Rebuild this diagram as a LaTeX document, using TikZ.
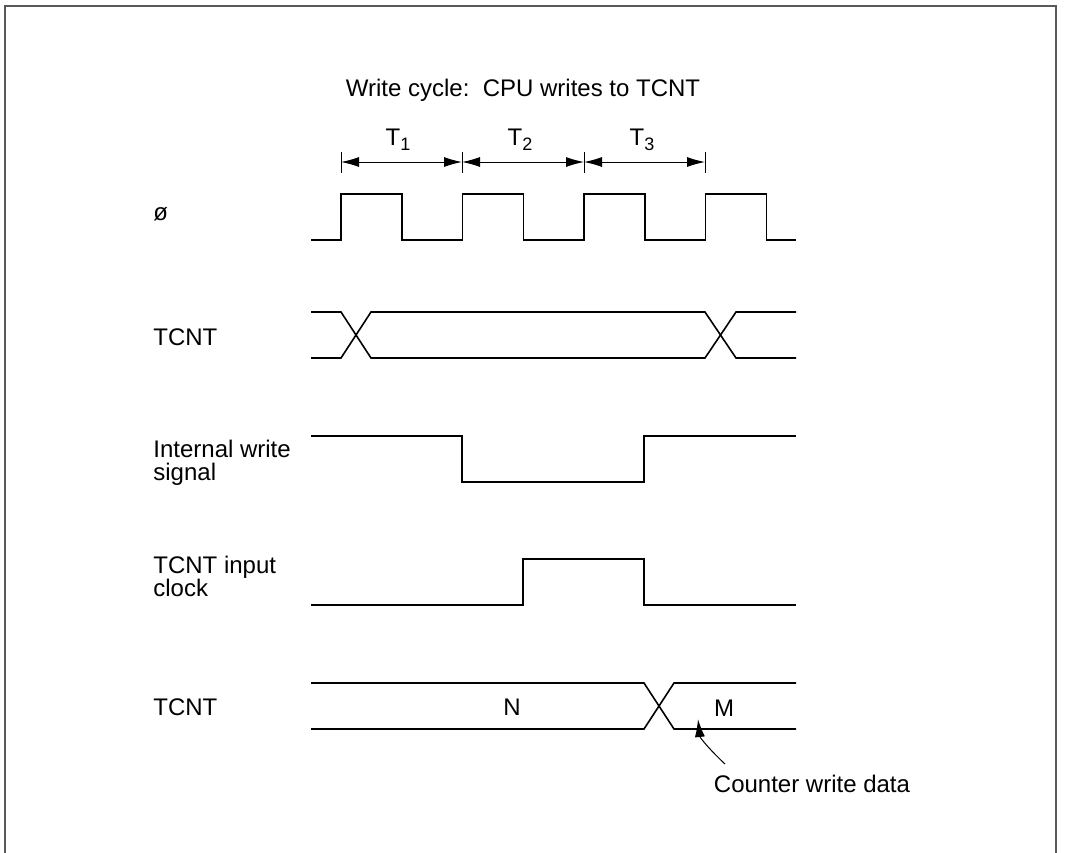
\documentclass[tikz,border=0pt]{standalone}
\usepackage{fontspec}
\setmainfont{Liberation Sans}
\usetikzlibrary{arrows.meta}

\newcommand{\Tsub}[1]{T\raisebox{-2.5pt}{\fontsize{9}{9}\selectfont #1}}

\begin{document}
\begin{tikzpicture}[x=0.5pt,y=-0.5pt,font=\fontsize{12}{11.5}\selectfont,
    signal/.style={line width=0.8pt},
    lbl/.style={anchor=base west,inner sep=0pt,align=left},
    span/.style={line width=0.5pt,{Latex[length=9pt,width=5pt]}-{Latex[length=9pt,width=5pt]}}]
    \useasboundingbox (0,0) rectangle (1066,852);

    % Rahmen (unten offen)
    \draw[line width=1pt,black!65] (5,870) -- (5,6) -- (1056,6) -- (1056,870);

    % Titel
    \node[anchor=base] (title) at (523,96) {Write cycle:\ \ CPU writes to TCNT};

    % T1 .. T3
    \foreach \x[count=\i] in {341,462,584,705}{
      \coordinate (t\i) at (\x,162);
      \draw[line width=0.5pt] (\x,152) -- (\x,173);
    }
    \draw[span] (t1) -- (t2);
    \draw[span] (t2) -- (t3);
    \draw[span] (t3) -- (t4);
    \node[anchor=base] (T1) at (398,145) {\Tsub{1}};
    \node[anchor=base] (T2) at (520,145) {\Tsub{2}};
    \node[anchor=base] (T3) at (642,145) {\Tsub{3}};

    % Signalnamen (base = letzte Zeile)
    \node[lbl] (phi) at (153,220) {ø};
    \node[lbl] (tcntA) at (153,345) {TCNT};
    \node[lbl] (iws) at (153,480) {Internal write\\signal};
    \node[lbl] (tic) at (153,596) {TCNT input\\clock};
    \node[lbl] (tcntB) at (153,715) {TCNT};

    % Takt
    \draw[signal] (311,240)
      \foreach \x in {341,462.5,584,705.5}{
        -- (\x,240) -- (\x,194) -- ({\x+61},194) -- ({\x+61},240)
      } -- (796,240);

    % TCNT (oben)
    \draw[signal] (311,312) -- (341,312) -- (371,358) -- (705,358) -- (736,312) -- (796,312);
    \draw[signal] (311,358) -- (341,358) -- (371,312) -- (705,312) -- (736,358) -- (796,358);

    % Internal write signal
    \draw[signal] (311,436) -- (462,436) -- (462,482) -- (644,482) -- (644,436) -- (796,436);

    % TCNT input clock
    \draw[signal] (311,605) -- (523,605) -- (523,559) -- (644,559) -- (644,605) -- (796,605);

    % TCNT (unten)
    \draw[signal] (311,683) -- (644,683) -- (674,729) -- (796,729);
    \draw[signal] (311,729) -- (644,729) -- (674,683) -- (796,683);
    \node[anchor=base] (N) at (512,715) {N};
    \node[anchor=base] (M) at (724,716) {M};

    % Counter write data
    \node[anchor=base] (cwd) at (812,792) {Counter write data};
    \coordinate (cwdtail) at (725,764);
    \coordinate (cwdtip) at (698,719);
    \draw[line width=0.5pt,-{Latex[length=9pt,width=5pt]}] (cwdtail) .. controls (712,752) and (700,738) .. (cwdtip);
\end{tikzpicture}
\end{document}
